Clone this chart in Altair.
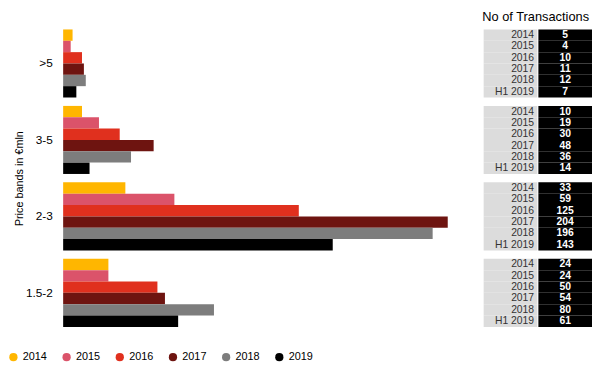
import altair as alt
import pandas as pd

bands = [">5", "3-5", "2-3", "1.5-2"]
years = ["2014", "2015", "2016", "2017", "2018", "2019"]
row_labels = ["2014", "2015", "2016", "2017", "2018", "H1 2019"]
counts = {
    ">5": [5, 4, 10, 11, 12, 7],
    "3-5": [10, 19, 30, 48, 36, 14],
    "2-3": [33, 59, 125, 204, 196, 143],
    "1.5-2": [24, 24, 50, 54, 80, 61],
}
colors = ["#FFB600", "#DB536A", "#E0301E", "#6E1410", "#7D7D7D", "#000000"]

rows = []
for b in bands:
    for i, y in enumerate(years):
        rows.append({"band": b, "year": y, "label": row_labels[i], "n": counts[b][i],
                     "cy": "yr", "cv": "val"})
df = pd.DataFrame(rows)

H = 302
FONT = "Liberation Sans"


def yenc(axis):
    return alt.Y("band:N", sort=bands,
                 scale=alt.Scale(domain=bands, paddingInner=0.11, paddingOuter=0), axis=axis)


yoff = alt.YOffset("year:N", scale=alt.Scale(domain=years, paddingInner=0, paddingOuter=0))

bars = alt.Chart(df).mark_bar(opacity=1).encode(
    y=yenc(alt.Axis(title="Price bands in €mln", ticks=False, domain=False,
                    labelFontSize=12, labelColor="#000", labelPadding=11,
                    titleFontSize=11, titleFontWeight="normal", titleColor="#000",
                    titlePadding=1, labelFont=FONT, titleFont=FONT)),
    yOffset=yoff,
    x=alt.X("n:Q", scale=alt.Scale(domain=[0, 210]), axis=None),
    color=alt.Color("year:N", sort=years, scale=alt.Scale(domain=years, range=colors),
                    legend=alt.Legend(title=None, orient="none", direction="horizontal",
                                      legendX=-56, legendY=327, symbolType="circle",
                                      symbolSize=70, labelFontSize=11, labelColor="#000",
                                      columnPadding=14, symbolStrokeWidth=0,
                                      labelFont=FONT)),
).properties(width=402, height=H)

cols = ["yr", "val"]
xs = alt.Scale(domain=cols, paddingInner=0.02, paddingOuter=0)
base = alt.Chart(df)

grey = base.mark_rect(color="#DCDCDC").encode(
    y=yenc(None), yOffset=yoff, x=alt.X("cy:N", scale=xs, axis=None))
black = base.mark_rect(color="#000000").encode(
    y=yenc(None), yOffset=yoff, x=alt.X("cv:N", scale=xs, axis=None))
yr_text = base.mark_text(align="right", dx=24, fontSize=10.5, color="#333", font=FONT).encode(
    y=yenc(None), yOffset=yoff, x=alt.X("cy:N", scale=xs, axis=None), text="label:N")
val_text = base.mark_text(align="center", fontSize=10.5, fontWeight="bold", color="#fff",
                          font=FONT).encode(
    y=yenc(None), yOffset=yoff, x=alt.X("cv:N", scale=xs, axis=None), text="n:Q")

table = alt.layer(grey, black, yr_text, val_text).properties(width=110, height=H)

chart = alt.hconcat(bars, table, spacing=25).properties(
    title=alt.Title("No of Transactions", anchor="end", fontSize=13, fontWeight="normal",
                    color="#000", font=FONT, offset=6, dx=-3),
    padding={"top": 0, "left": 0, "right": 0, "bottom": 5},
).configure_view(stroke=None)

chart.save("out.html", embed_options={"renderer": "svg", "actions": False})
